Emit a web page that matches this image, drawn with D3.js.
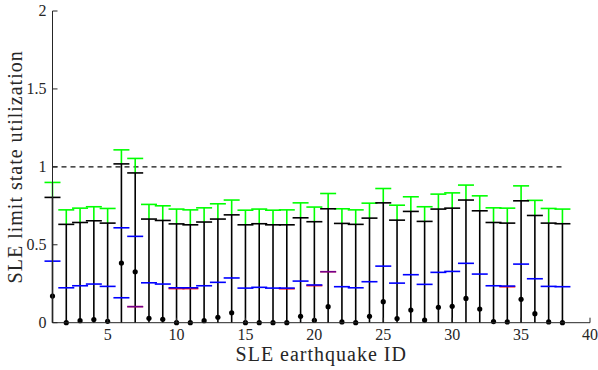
<!DOCTYPE html>
<html>
<head>
<meta charset="utf-8">
<script src="https://d3js.org/d3.v7.min.js"></script>
<style>
  * { margin: 0; padding: 0; }
  body { background: #fff; }
  svg text { font-family: 'Liberation Serif', 'DejaVu Serif', serif; fill: #262626; }
</style>
</head>
<body>
<div id="chart"></div>
<script>
// SLE earthquake IDs
const ids = [1, 2, 3, 4, 5, 6, 7, 8, 9, 10, 11, 12, 13, 14, 15, 16, 17, 18, 19, 20,
  21, 22, 23, 24, 25, 26, 27, 28, 29, 30, 31, 32, 33, 34, 35, 36, 37, 38];

// green caps (upper)
const greenVals = [0.900, 0.724, 0.735, 0.744, 0.733, 1.109, 1.054, 0.759, 0.750, 0.729,
  0.724, 0.737, 0.763, 0.787, 0.722, 0.729, 0.722, 0.724, 0.769, 0.742,
  0.829, 0.731, 0.724, 0.767, 0.861, 0.754, 0.808, 0.744, 0.825, 0.833,
  0.883, 0.814, 0.737, 0.735, 0.878, 0.785, 0.733, 0.729];

// black caps
const blackVals = [0.804, 0.631, 0.643, 0.654, 0.639, 1.019, 0.961, 0.665, 0.656, 0.634,
  0.628, 0.646, 0.665, 0.692, 0.628, 0.635, 0.628, 0.628, 0.673, 0.648,
  0.731, 0.637, 0.631, 0.671, 0.769, 0.658, 0.714, 0.650, 0.729, 0.735,
  0.787, 0.718, 0.643, 0.639, 0.782, 0.688, 0.639, 0.635];

// black dots
const dotVals = [0.171, 0.000, 0.013, 0.020, 0.009, 0.383, 0.327, 0.028, 0.022, 0.000,
  0.000, 0.013, 0.035, 0.064, 0.000, 0.000, 0.000, 0.000, 0.041, 0.015,
  0.103, 0.005, 0.000, 0.041, 0.135, 0.027, 0.081, 0.017, 0.099, 0.105,
  0.156, 0.088, 0.007, 0.005, 0.150, 0.058, 0.005, 0.000];

// blue markers (upper / lower)
const blueHi = [0.395, 0.224, 0.237, 0.248, 0.233, 0.609, 0.554, 0.256, 0.248, 0.224,
  0.224, 0.237, 0.259, 0.287, 0.222, 0.227, 0.222, 0.222, 0.267, 0.242,
  0.327, 0.231, 0.224, 0.263, 0.363, 0.254, 0.308, 0.246, 0.323, 0.329,
  0.381, 0.312, 0.237, 0.235, 0.376, 0.282, 0.233, 0.231];
const blueLo = [null, null, null, null, null, 0.160, 0.103, null, null, null,
  null, null, null, null, null, null, null, null, null, null,
  null, null, null, null, null, null, null, null, null, null,
  null, null, null, null, null, null, null, null];

// red markers (mostly hidden under blue)
const redVals = [null, null, null, null, null, null, 0.103, null, null, 0.219,
  0.219, null, null, null, null, null, null, 0.218, null, 0.238,
  0.327, null, null, null, null, null, null, null, null, null,
  null, null, null, 0.231, null, null, null, null];

const xTicks = [5, 10, 15, 20, 25, 30, 35, 40];
const yTicks = [0, 0.5, 1, 1.5, 2];

const width = 598, height = 370;
const capW = 16;

const svg = d3.select('#chart').append('svg')
  .attr('width', width)
  .attr('height', height);

const x = d3.scaleLinear().domain([1, 40]).range([52.5, 590]);
const y = d3.scaleLinear().domain([0, 2]).range([322.7, 11]);

// dashed limit line
svg.append('line')
  .attr('x1', x(1)).attr('x2', x(38))
  .attr('y1', y(1)).attr('y2', y(1))
  .attr('stroke', '#111')
  .attr('stroke-width', 1.3)
  .attr('stroke-dasharray', '5,4');

const g = svg.append('g');
const rows = ids.map(function (id, i) {
  return { id: id, g: greenVals[i], b: blackVals[i], d: dotVals[i],
    hi: blueHi[i], lo: blueLo[i], r: redVals[i] };
});

// black stems
g.selectAll('.stem').data(rows).enter().append('line')
  .attr('x1', d => x(d.id)).attr('x2', d => x(d.id))
  .attr('y1', y(0)).attr('y2', d => y(d.b))
  .attr('stroke', '#000').attr('stroke-width', 1.6);

// green stems
g.selectAll('.gstem').data(rows).enter().append('line')
  .attr('x1', d => x(d.id)).attr('x2', d => x(d.id))
  .attr('y1', d => y(d.b)).attr('y2', d => y(d.g))
  .attr('stroke', '#00ff00').attr('stroke-width', 1.6);

function caps(key, color, data, opacity) {
  g.selectAll('.cap-' + key).data(data).enter().append('line')
    .attr('x1', d => x(d.id) - capW / 2).attr('x2', d => x(d.id) + capW / 2)
    .attr('y1', d => y(d[key])).attr('y2', d => y(d[key]))
    .attr('stroke', color).attr('stroke-width', 1.6)
    .attr('stroke-opacity', opacity);
}

caps('g', '#00ff00', rows, 1);
caps('b', '#000', rows, 1);
caps('r', '#ff0000', rows.filter(d => d.r !== null), 1);
// blue drawn over red; where they coincide the mix shows purple
caps('hi', '#0000ff', rows, d => d.r === d.hi ? 0.55 : 1);
caps('lo', '#0000ff', rows.filter(d => d.lo !== null), d => d.r === d.lo ? 0.55 : 1);

// dots
g.selectAll('circle').data(rows).enter().append('circle')
  .attr('cx', d => x(d.id)).attr('cy', d => y(d.d))
  .attr('r', 2.6).attr('fill', '#000');

// axes
const axisColor = '#262626';
svg.append('line')
  .attr('x1', x(1)).attr('x2', x(1)).attr('y1', y(0)).attr('y2', y(2))
  .attr('stroke', axisColor).attr('stroke-width', 1);
svg.append('line')
  .attr('x1', x(1)).attr('x2', x(40)).attr('y1', y(0)).attr('y2', y(0))
  .attr('stroke', axisColor).attr('stroke-width', 1);

svg.selectAll('.ytick').data(yTicks).enter().append('line')
  .attr('x1', x(1)).attr('x2', x(1) + 5)
  .attr('y1', d => y(d)).attr('y2', d => y(d))
  .attr('stroke', axisColor);
svg.selectAll('.ylab').data(yTicks).enter().append('text')
  .attr('x', x(1) - 6).attr('y', d => y(d))
  .attr('dy', '0.33em')
  .attr('text-anchor', 'end')
  .style('font-size', '16px')
  .text(d => d3.format('')(d));

svg.selectAll('.xtick').data(xTicks).enter().append('line')
  .attr('x1', d => x(d)).attr('x2', d => x(d))
  .attr('y1', y(0)).attr('y2', y(0) - 5)
  .attr('stroke', axisColor);
svg.selectAll('.xlab').data(xTicks).enter().append('text')
  .attr('x', d => x(d)).attr('y', y(0) + 17.5)
  .attr('text-anchor', 'middle')
  .style('font-size', '16px')
  .text(d => d);

svg.append('text')
  .attr('x', (x(1) + x(40)) / 2).attr('y', 361)
  .attr('text-anchor', 'middle')
  .style('font-size', '20px')
  .style('letter-spacing', '1px')
  .text('SLE earthquake ID');

svg.append('text')
  .attr('transform', 'translate(22,' + (y(0) + y(2)) / 2 + ') rotate(-90)')
  .attr('text-anchor', 'middle')
  .style('font-size', '20px')
  .style('letter-spacing', '1px')
  .text('SLE limit state utilization');
</script>
</body>
</html>
